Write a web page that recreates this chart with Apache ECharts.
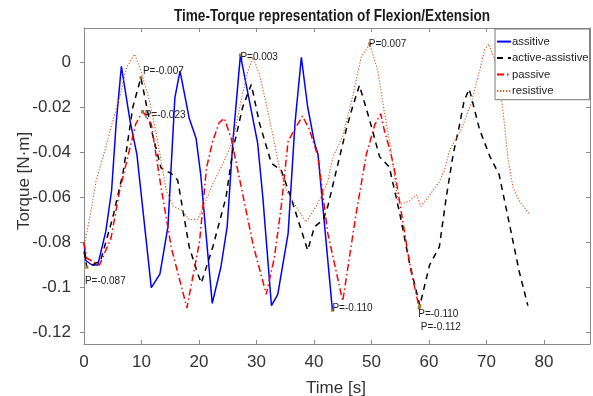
<!DOCTYPE html>
<html>
<head>
<meta charset="utf-8">
<script src="https://cdn.jsdelivr.net/npm/echarts@6/dist/echarts.min.js"></script>
<style>html,body{margin:0;padding:0;background:#fff}#c{width:593px;height:396px}</style>
</head>
<body>
<div id="c"></div>
<script>
// ---- data (time in s, torque in N·m) ----
const tAssitive = [0,0.3,1.4,2.4,3.8,4.8,5.6,6.5,8.0,9.2,11.7,13.2,14.6,15.8,16.7,18.3,19.5,20.3,22.3,23.8,24.9,25.9,27.2,28.2,30.2,31.1,32.6,33.7,35.5,36.7,37.8,38.9,40.1,40.7,43.2];
const vAssitive = [-0.080,-0.088,-0.090,-0.090,-0.075,-0.057,-0.027,-0.002,-0.026,-0.041,-0.100,-0.094,-0.073,-0.016,-0.004,-0.025,-0.034,-0.050,-0.107,-0.091,-0.073,-0.035,0.003,-0.010,-0.036,-0.060,-0.108,-0.103,-0.076,-0.027,0.002,-0.020,-0.036,-0.041,-0.110];

const tActive = [0,0.5,1.5,2.9,5.0,6.8,8.5,9.9,11.7,13.4,15.2,16.3,18.3,19.8,20.4,22.4,24.7,25.9,27.6,29.1,30.5,32.6,34.3,36.1,38.9,40.1,41.6,42.4,43.9,45.6,46.7,47.9,49.7,51.4,53.1,54.9,56.6,58.4,60.1,61.8,63.0,64.2,65.3,66.1,67.0,68.8,70.6,72.2,74.0,75.7,77.2];
const vActive = [-0.084,-0.091,-0.090,-0.088,-0.069,-0.049,-0.020,-0.007,-0.030,-0.047,-0.0495,-0.0525,-0.082,-0.094,-0.098,-0.082,-0.060,-0.039,-0.020,-0.010,-0.027,-0.045,-0.048,-0.061,-0.0835,-0.073,-0.070,-0.064,-0.048,-0.030,-0.020,-0.0104,-0.026,-0.042,-0.0466,-0.067,-0.089,-0.108,-0.090,-0.082,-0.060,-0.041,-0.028,-0.0173,-0.012,-0.030,-0.042,-0.050,-0.072,-0.093,-0.108];

const tPassive = [0,0.5,2.7,4.7,6.2,8.0,9.0,10.2,11.7,13.4,15.2,17.9,20.1,21.3,22.4,23.5,24.4,25.6,27.6,29.4,31.7,33.1,34.3,35.5,38.0,39.2,40.7,42.4,45.0,47.3,49.1,50.6,51.6,52.2,53.4,54.0,56.1,56.9,58.3];
const vPassive = [-0.080,-0.087,-0.090,-0.078,-0.057,-0.038,-0.0275,-0.022,-0.0275,-0.0556,-0.0825,-0.109,-0.0795,-0.047,-0.035,-0.027,-0.025,-0.034,-0.0586,-0.081,-0.103,-0.0868,-0.0641,-0.035,-0.024,-0.030,-0.042,-0.076,-0.106,-0.0676,-0.041,-0.0277,-0.023,-0.030,-0.041,-0.048,-0.081,-0.093,-0.109];

const tResistive = [0,1.0,2.1,3.6,4.7,6.2,7.4,8.8,9.9,11.4,12.8,14.3,15.5,17.2,18.3,19.8,20.7,22.4,24.4,25.9,27.3,28.5,29.4,30.5,31.7,32.8,34.0,35.2,37.0,38.6,40.4,42.4,43.3,45.0,46.7,48.2,49.7,51.1,52.2,53.4,54.6,55.2,56.6,57.8,58.6,60.7,61.8,62.7,63.6,65.6,67.3,68.8,69.7,70.4,71.7,72.8,73.7,74.6,75.7,77.5];
const vResistive = [-0.082,-0.069,-0.0527,-0.0395,-0.029,-0.0157,-0.0025,0.0034,-0.004,-0.0173,-0.035,-0.057,-0.064,-0.066,-0.070,-0.0697,-0.0645,-0.054,-0.0438,-0.035,-0.0173,-0.004,0.0019,-0.0054,-0.0186,-0.032,-0.047,-0.057,-0.0645,-0.071,-0.064,-0.053,-0.042,-0.033,-0.0156,0.002,0.0079,-0.004,-0.0216,-0.0395,-0.0616,-0.063,-0.0616,-0.059,-0.064,-0.057,-0.053,-0.048,-0.039,-0.030,-0.0186,-0.004,0.0055,0.0079,-0.001,-0.020,-0.042,-0.0555,-0.0616,-0.0676];

const seriesNames = ['assitive', 'active-assistive', 'passive', 'resistive'];
const xTicks = [0, 10, 20, 30, 40, 50, 60, 70, 80];
const yTicks = [-0.12, -0.1, -0.08, -0.06, -0.04, -0.02, 0];

// data tips: series index, time, torque, text
const annSeries = [1, 1, 2, 0, 3, 0, 2, 1];
const annT = [0.5, 9.9, 10.2, 27.2, 49.7, 43.2, 58.3, 58.4];
const annV = [-0.091, -0.007, -0.022, 0.003, 0.0079, -0.110, -0.109, -0.108];
const annText = ['P=-0.087', 'P=-0.007', 'P=-0.023', 'P=0.003', 'P=0.007', 'P=-0.110', 'P=-0.110', 'P=-0.112'];
// label offsets (style only)
const annOffset = [[-2, 14], [2, -6], [2, 4], [0, 2], [-1, 0], [0, -2], [-1, 6], [1, 22]];

const REG = '"Liberation Sans", Arial, sans-serif';

function zip(t, v) { return t.map((x, i) => [x, v[i]]); }
const allT = [tAssitive, tActive, tPassive, tResistive];
const allV = [vAssitive, vActive, vPassive, vResistive];
const colors = ['#0000ff', '#000000', '#ff0000', '#D95319'];
const lineTypes = ['solid', [6, 5], [7, 3, 1.5, 3], [1.2, 1.8]];
const widths = [1.5, 1.5, 1.5, 1.1];

function markFor(si) {
  const d = [];
  annSeries.forEach((s, i) => {
    if (s !== si) return;
    d.push({
      coord: [annT[i], annV[i]],
      label: { formatter: annText[i], offset: annOffset[i] }
    });
  });
  return {
    symbol: 'rect', symbolSize: 3,
    itemStyle: { color: '#9a7a30' },
    label: {
      show: true, position: 'inside', align: 'left', verticalAlign: 'middle',
      color: '#222', fontSize: 10, fontFamily: REG
    },
    data: d
  };
}

const series = seriesNames.map((n, i) => ({
  name: n, type: 'line', data: zip(allT[i], allV[i]),
  showSymbol: false, smooth: false,
  lineStyle: { color: colors[i], width: widths[i], type: lineTypes[i] },
  itemStyle: { color: colors[i] },
  z: 2 + i,
  markPoint: markFor(i)
}));

const axisColor = '#8a8a8a';
const chart = echarts.init(document.getElementById('c'), null, { renderer: 'canvas' });
chart.setOption({
  animation: false,
  backgroundColor: '#fff',
  grid: { left: 84, top: 28, width: 506, height: 316, containLabel: false },
  xAxis: [{
    type: 'value', min: 0, max: 88, position: 'bottom',
    axisLine: { show: true, onZero: false, lineStyle: { color: axisColor, width: 1 } },
    axisTick: { show: true, inside: true, length: 4, customValues: xTicks, lineStyle: { color: axisColor } },
    axisLabel: { customValues: xTicks, margin: 10, fontSize: 17, color: '#333', fontFamily: REG },
    splitLine: { show: false }
  }, {
    type: 'value', min: 0, max: 88, position: 'top',
    axisLine: { show: true, onZero: false, lineStyle: { color: axisColor, width: 1 } },
    axisTick: { show: true, inside: true, length: 4, customValues: xTicks, lineStyle: { color: axisColor } },
    axisLabel: { show: false }, splitLine: { show: false }
  }],
  yAxis: [{
    type: 'value', min: -0.125, max: 0.015, position: 'left',
    axisLine: { show: true, onZero: false, lineStyle: { color: axisColor, width: 1 } },
    axisTick: { show: true, inside: false, length: 4, customValues: yTicks, lineStyle: { color: axisColor } },
    axisLabel: { customValues: yTicks, margin: 13, fontSize: 17, color: '#333', fontFamily: REG,
      formatter: v => String(+(+v).toFixed(2)) },
    splitLine: { show: false }
  }, {
    type: 'value', min: -0.125, max: 0.015, position: 'right',
    axisLine: { show: true, onZero: false, lineStyle: { color: axisColor, width: 1 } },
    axisTick: { show: true, inside: true, length: 4, customValues: yTicks, lineStyle: { color: axisColor } },
    axisLabel: { show: false }, splitLine: { show: false }
  }],
  legend: {
    orient: 'vertical', left: 495, top: 29,
    data: seriesNames,
    itemWidth: 14, itemHeight: 14, itemGap: 3.3,
    padding: [6, 1, 2, 1],
    itemStyle: { opacity: 0, borderWidth: 0 },
    borderColor: '#777', borderWidth: 1, backgroundColor: '#fff',
    textStyle: { fontSize: 11.3, color: '#222', fontFamily: REG, padding: [0, 0, 0, -4] },
    z: 10
  },
  graphic: [
    { type: 'text', x: 332, y: 16, z: 10, scaleX: 0.8,
      style: { text: 'Time-Torque representation of Flexion/Extension', align: 'center', verticalAlign: 'middle',
        font: 'bold 17px ' + REG, fill: '#1a1a1a' } },
    { type: 'text', x: 336, y: 388, z: 10,
      style: { text: 'Time [s]', align: 'center', verticalAlign: 'middle', font: '17px ' + REG, fill: '#333' } },
    { type: 'text', x: 24, y: 181, rotation: Math.PI / 2, z: 10,
      style: { text: 'Torque [N·m]', align: 'center', verticalAlign: 'middle', font: '17px ' + REG, fill: '#333' } }
  ],
  series: series
});
</script>
</body>
</html>
